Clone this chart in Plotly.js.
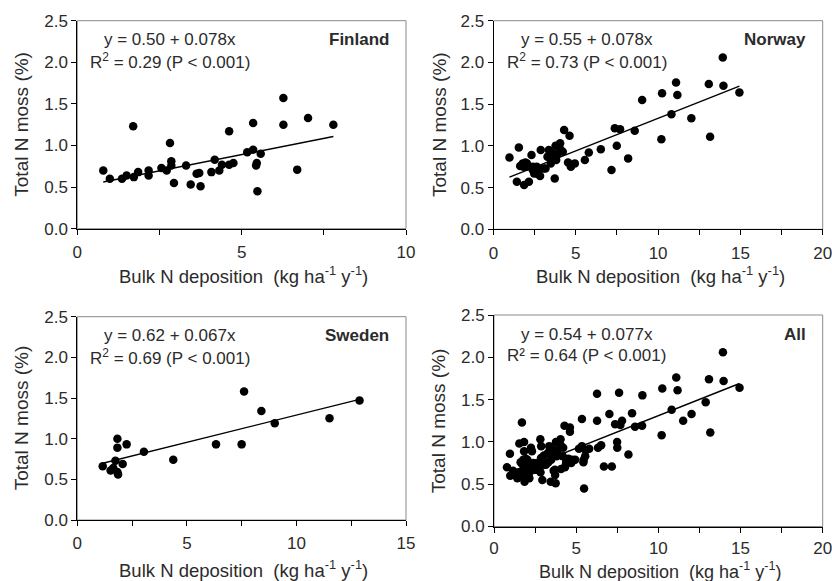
<!DOCTYPE html>
<html>
<head>
<meta charset="utf-8">
<script src="https://cdn.plot.ly/plotly-3.0.1.min.js"></script>
<style>html,body{margin:0;padding:0;background:#fff}#chart{width:832px;height:581px}</style>
</head>
<body>
<div id="chart"></div>
<script>
// ---- data ----
const finX = [0.79,0.99,1.36,1.50,1.70,1.72,1.85,2.17,2.17,2.56,2.72,2.82,2.86,2.86,2.94,3.31,3.45,3.63,3.71,3.75,4.08,4.18,4.32,4.40,4.62,4.62,4.75,5.17,5.35,5.35,5.44,5.46,5.48,5.58,6.27,6.27,6.69,7.02,7.79];
const finY = [0.70,0.60,0.60,0.64,1.23,0.62,0.68,0.70,0.64,0.73,0.70,1.03,0.81,0.76,0.55,0.76,0.53,0.66,0.67,0.51,0.68,0.83,0.70,0.77,1.17,0.77,0.79,0.92,1.27,0.95,0.76,0.79,0.45,0.90,1.57,1.25,0.71,1.33,1.25];

const norX = [0.97,1.42,1.54,1.62,1.78,1.86,1.94,2.02,2.15,2.31,2.39,2.47,2.63,2.71,2.83,2.87,3.16,3.32,3.36,3.48,3.60,3.72,3.77,3.81,4.01,4.05,4.21,4.29,4.53,4.62,4.70,4.94,5.55,5.79,6.52,7.17,7.37,7.49,7.69,8.18,8.58,9.03,10.20,10.24,10.81,11.09,11.17,12.02,13.08,13.16,13.93,13.97,14.94,1.82,2.03,2.39,2.63,3.04,3.28,3.60,3.85,4.09];
const norY = [0.86,0.57,0.98,0.76,0.79,0.53,0.80,0.75,0.57,0.89,0.75,0.67,0.75,0.69,0.64,0.95,0.73,0.87,0.95,0.79,0.91,0.61,1.00,0.83,0.97,1.03,0.93,1.19,0.80,1.12,0.75,0.79,0.83,0.92,0.96,0.71,1.21,1.00,1.20,0.85,1.18,1.55,1.08,1.63,1.38,1.76,1.61,1.33,1.74,1.11,2.06,1.72,1.64,0.75,0.79,0.71,0.67,0.73,0.87,0.85,0.89,0.95];

const sweX = [1.16,1.52,1.64,1.74,1.83,1.83,1.83,1.86,2.07,2.25,3.04,4.38,6.33,7.50,7.61,8.40,9.01,11.51,12.88];
const sweY = [0.66,0.61,0.64,0.73,1.00,0.89,0.59,0.56,0.69,0.93,0.84,0.74,0.93,0.93,1.58,1.34,1.19,1.25,1.47];

const allX = finX.concat(norX, sweX);
const allY = finY.concat(norY, sweY);

const panelNames = ["Finland", "Norway", "Sweden", "All"];
const intercepts = [0.50, 0.55, 0.62, 0.54];
const slopes = [0.078, 0.078, 0.067, 0.077];
const r2Values = ["0.29", "0.73", "0.69", "0.64"];
const r2Labels = ["R<sup>2</sup>", "R<sup>2</sup>", "R<sup>2</sup>", "R²"];
const xMaxes = [10, 20, 15, 20];
const yTitle = "Total N moss (%)";
const xTitle = "Bulk N deposition  (kg ha<sup>-1</sup> y<sup>-1</sup>)";

// ---- layout helpers (pixel -> paper) ----
const W = 832, H = 581;
const px = v => v / W;
const py = v => 1 - v / H;

// plot boxes in pixels: [left, right, top, bottom]
const boxes = [
  [77.3, 406.0, 20.7, 228.7],
  [493.5, 822.7, 20.7, 229.3],
  [77.3, 406.0, 316.7, 520.0],
  [494.0, 822.7, 315.0, 526.5]
];
const xTitleOffsets = [46, 46, 49, 43.5];
const xTitleSizes = [18.5, 18.5, 18.5, 18];
const tickStandoffs = [3, 3, 3, 1];
const yTitleX = [22, 440, 21, 438.5];

const series = [[finX, finY], [norX, norY], [sweX, sweY], [allX, allY]];
const FONT = "Liberation Sans, Arial, sans-serif";
const TXT = "#2b2b2b";

const traces = [];
const layout = {
  width: W, height: H,
  margin: {l: 0, r: 0, t: 0, b: 0},
  paper_bgcolor: "#fff", plot_bgcolor: "#fff",
  showlegend: false,
  font: {family: FONT, size: 17, color: TXT},
  shapes: [], annotations: []
};

series.forEach((s, i) => {
  const n = i + 1;
  const xa = n === 1 ? "x" : "x" + n;
  const ya = n === 1 ? "y" : "y" + n;
  traces.push({
    type: "scatter", mode: "markers", x: s[0], y: s[1], xaxis: xa, yaxis: ya,
    marker: {color: "#000", size: 8.5}, cliponaxis: false, hoverinfo: "skip"
  });
  const lo = Math.min(...s[0]), hi = Math.max(...s[0]);
  traces.push({
    type: "scatter", mode: "lines", x: [lo, hi],
    y: [intercepts[i] + slopes[i] * lo, intercepts[i] + slopes[i] * hi],
    xaxis: xa, yaxis: ya, line: {color: "#000", width: 1.4}, hoverinfo: "skip"
  });

  const b = boxes[i];
  const axKey = n === 1 ? "" : String(n);
  layout["xaxis" + axKey] = {
    domain: [px(b[0]), px(b[1])], anchor: ya, range: [0, xMaxes[i]],
    showgrid: false, zeroline: false, showline: true, linecolor: "#000", linewidth: 1,
    ticks: "outside", ticklen: 5, tickcolor: "#000", dtick: 5, tick0: 0,
    minor: {dtick: 2.5, ticks: "outside", ticklen: 5, tickcolor: "#000"},
    tickfont: {family: FONT, size: 17, color: TXT}, ticklabelstandoff: tickStandoffs[i],
    ticklabeloverflow: "allow",
    fixedrange: true
  };
  layout["yaxis" + axKey] = {
    domain: [py(b[3]), py(b[2])], anchor: xa, range: [0, 2.5],
    showgrid: false, zeroline: false, showline: true, linecolor: "#000", linewidth: 1,
    ticks: "outside", ticklen: 5, tickcolor: "#000", dtick: 0.5, tick0: 0, tickformat: ".1f",
    tickfont: {family: FONT, size: 17, color: TXT}, ticklabeloverflow: "allow",
    fixedrange: true
  };
  // grey frame (top / right)
  layout.shapes.push({
    type: "rect", xref: xa + " domain", yref: ya + " domain", x0: 0, x1: 1, y0: 0, y1: 1,
    line: {color: "#8a8a8a", width: 1}, layer: "below"
  });

  // equation + R2
  layout.annotations.push({
    xref: "paper", yref: "paper", x: px(b[0] + 25), y: py(b[2] + 19),
    xanchor: "left", yanchor: "middle", showarrow: false,
    text: "y = " + intercepts[i].toFixed(2) + " + " + slopes[i].toFixed(3) + "x",
    font: {family: FONT, size: 17, color: TXT}
  });
  layout.annotations.push({
    xref: "paper", yref: "paper", x: px(b[0] + 11), y: py(b[2] + 40),
    xanchor: "left", yanchor: "middle", showarrow: false,
    text: r2Labels[i] + " = " + r2Values[i] + " (P &lt; 0.001)",
    font: {family: FONT, size: 17, color: TXT}
  });
  // panel name
  layout.annotations.push({
    xref: "paper", yref: "paper", x: px(b[1] - 15), y: py(b[2] + 19),
    xanchor: "right", yanchor: "middle", showarrow: false,
    text: "<b>" + panelNames[i] + "</b>",
    font: {family: FONT, size: 17, color: TXT}
  });
  // axis titles
  layout.annotations.push({
    xref: "paper", yref: "paper", x: px((b[0] + b[1]) / 2 + 2), y: py(b[3] + xTitleOffsets[i]),
    xanchor: "center", yanchor: "middle", showarrow: false,
    text: xTitle, font: {family: FONT, size: xTitleSizes[i], color: TXT}
  });
  layout.annotations.push({
    xref: "paper", yref: "paper", x: px(yTitleX[i]), y: py((b[2] + b[3]) / 2),
    xanchor: "center", yanchor: "middle", showarrow: false, textangle: -90,
    text: yTitle, font: {family: FONT, size: 19, color: TXT}
  });
});

Plotly.newPlot("chart", traces, layout, {staticPlot: true, displayModeBar: false});
</script>
</body>
</html>
